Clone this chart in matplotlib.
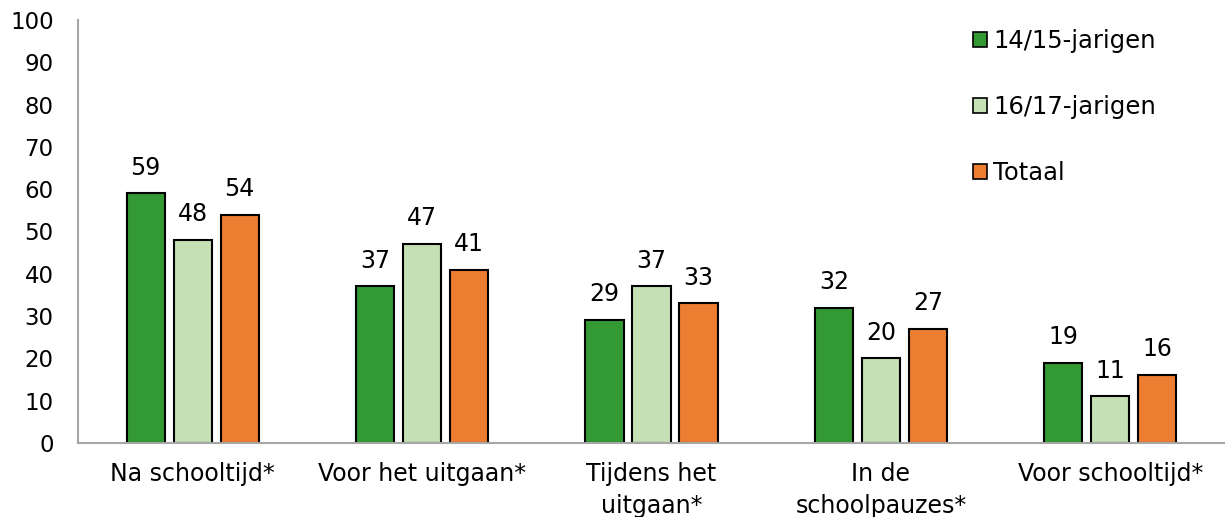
import matplotlib.pyplot as plt
import numpy as np

categories = ["Na schooltijd*", "Voor het uitgaan*", "Tijdens het\nuitgaan*",
              "In de\nschoolpauzes*", "Voor schooltijd*"]
leeftijd_14_15 = [59, 37, 29, 32, 19]
leeftijd_16_17 = [48, 47, 37, 20, 11]
totaal = [54, 41, 33, 27, 16]
series_labels = ["14/15-jarigen", "16/17-jarigen", "Totaal"]
colors = ["#339933", "#c5e0b4", "#ed7d31"]

plt.rcParams['font.family'] = ['DejaVu Sans']

fig = plt.figure(figsize=(12.25, 5.17), dpi=100)
ax = fig.add_axes([78 / 1225, (517 - 443) / 517, 1 - 78 / 1225, (443 - 20) / 517])

x = np.arange(len(categories))
width = 0.166
step = 0.205
all_series = [leeftijd_14_15, leeftijd_16_17, totaal]

for i, (vals, lab, col) in enumerate(zip(all_series, series_labels, colors)):
    pos = x + (i - 1) * step
    bars = ax.bar(pos, vals, width, color=col, edgecolor='black', linewidth=1.5, label=lab)
    for b, v in zip(bars, vals):
        ax.annotate(f"{v}", xy=(b.get_x() + b.get_width() / 2, v),
                    xytext=(0, 10), textcoords='offset points',
                    ha='center', va='bottom', fontsize=17)

ax.set_xlim(-0.5, len(categories) - 0.5)
ax.set_ylim(0, 100)
ax.set_yticks(np.arange(0, 101, 10))
ax.tick_params(axis='y', length=0, labelsize=16.5, pad=17.5)
ax.tick_params(axis='x', length=0, labelsize=17, pad=14)
ax.set_xticks(x)
ax.set_xticklabels(categories, linespacing=1.4)

for s in ['top', 'right']:
    ax.spines[s].set_visible(False)
for s in ['left', 'bottom']:
    ax.spines[s].set_color('#a6a6a6')
    ax.spines[s].set_linewidth(1.5)

leg = ax.legend(loc='upper left', bbox_to_anchor=(0.761, 1.03), frameon=False,
                fontsize=17.5, handlelength=0.6, handleheight=0.6, handletextpad=0.25,
                labelspacing=1.72)
for h in leg.legend_handles:
    h.set_linewidth(1.2)

fig.savefig("out.png", dpi=100)
